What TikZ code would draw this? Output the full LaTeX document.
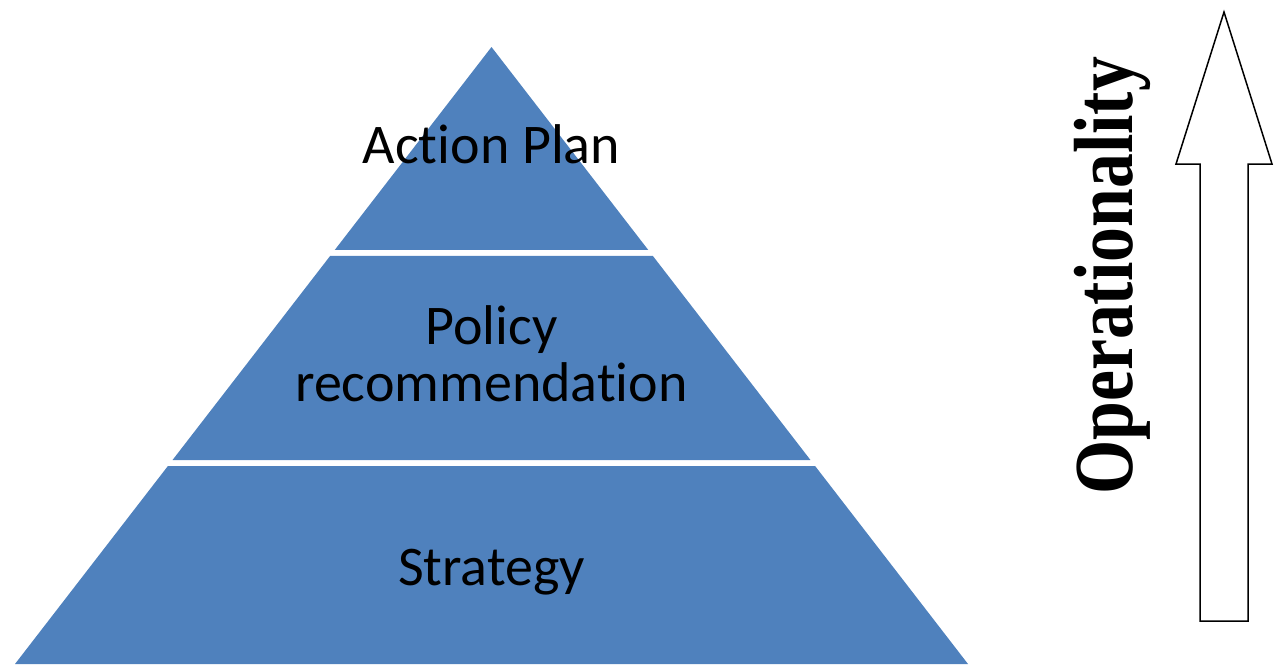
\documentclass[tikz,border=0pt]{standalone}
\usepackage{fontspec}
\setmainfont{Carlito}[Ligatures=NoCommon]
\newfontfamily\opfont{Liberation Serif}
\usepackage{tikz}
\usetikzlibrary{calc}
\definecolor{PyramidBlue}{HTML}{4F81BD}

\begin{document}
\begin{tikzpicture}[x=1pt, y=-1pt, every node/.style={font=\fontsize{56}{57}\selectfont}]
      \tikzset{
        layer/.style={fill=PyramidBlue, draw=none},
        tier/.style={text=black, inner sep=0pt, align=center},
        axislabel/.style={rotate=90, inner sep=0pt, font=\opfont\bfseries\fontsize{84}{84}\selectfont},
        blockarrow/.style={draw=black, line width=1.5pt, fill=white, line join=miter}
      }
      \useasboundingbox (0,0) rectangle (1274,664);
      \coordinate (apex) at (491.5,47);
      \coordinate (baseL) at (15,664);
      \coordinate (baseR) at (968,664);

      % Pyramid layers with white gaps
      \fill[layer] (apex) -- ($(apex)!0.329!(baseL)$) -- ($(apex)!0.329!(baseR)$) -- cycle;
      \fill[layer] ($(apex)!0.3387!(baseL)$) -- ($(apex)!0.6694!(baseL)$) -- ($(apex)!0.6694!(baseR)$) -- ($(apex)!0.3387!(baseR)$) -- cycle;
      \fill[layer] ($(apex)!0.6791!(baseL)$) -- (baseL) -- (baseR) -- ($(apex)!0.6791!(baseR)$) -- cycle;

      \node[tier, anchor=base] (action) at (491.5,163) {Action Plan};
      \node[tier, anchor=base] (policy) at (491.5,401) {Policy\\recommendation};
      \node[tier, anchor=base] (strategy) at (491.5,585) {Strategy};

      % Operationality arrow
      \coordinate (shaftL) at (1200,621);
      \coordinate (shaftR) at (1248,621);
      \coordinate (tip) at (1224,12);
      \draw[blockarrow] (shaftL) -- (1200,164) -- (1176,164) -- (tip) -- (1272,164) -- (1248,164) -- (shaftR) -- cycle;
      \node[axislabel, anchor=base west] (operationality) at (1132,495) {\scalebox{0.83}[1]{Operationality}};
    \end{tikzpicture}
\end{document}
